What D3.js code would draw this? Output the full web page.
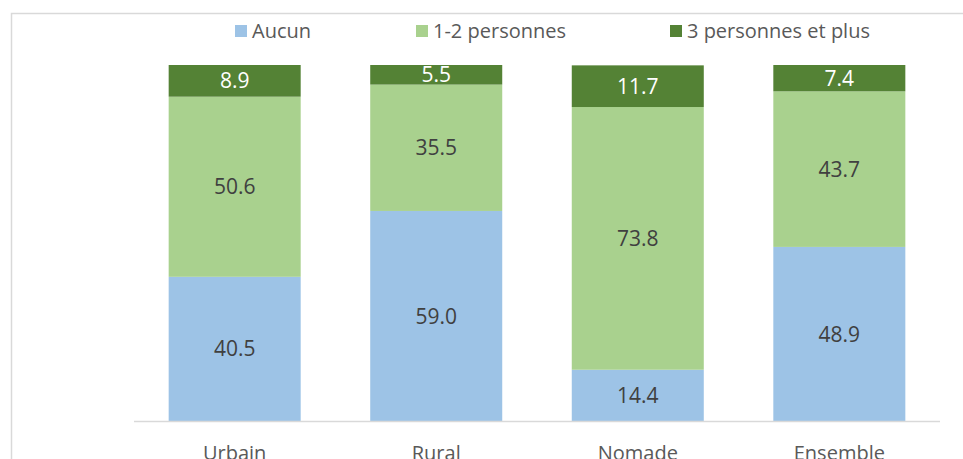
<!DOCTYPE html>
<html>
<head>
<meta charset="utf-8">
<script src="https://cdn.jsdelivr.net/npm/d3@7"></script>
<style>
    body { margin: 0; background: #fff; }
    svg { display: block; font-family: 'Open Sans', sans-serif; }
</style>
</head>
<body>
<svg id="chart" width="963" height="459"></svg>
<script>
var categories = ['Urbain', 'Rural', 'Nomade', 'Ensemble'];
var seriesNames = ['Aucun', '1-2 personnes', '3 personnes et plus'];
var aucun = [40.5, 59.0, 14.4, 48.9];
var unDeux = [50.6, 35.5, 73.8, 43.7];
var troisPlus = [8.9, 5.5, 11.7, 7.4];
var colors = ['#9dc3e6', '#a9d18e', '#548235'];
var labelColors = ['#404040', '#404040', '#ffffff'];

var svg = d3.select('#chart');

// chart frame (runs off the right and bottom edge)
svg.append('rect')
    .attr('x', 11.5)
    .attr('y', 13.5)
    .attr('width', 1000)
    .attr('height', 500)
    .attr('fill', 'none')
    .attr('stroke', '#d9d9d9')
    .attr('stroke-width', 1.5);

var x = d3.scaleBand()
    .domain(categories)
    .range([134, 940])
    .paddingInner(0.345)
    .paddingOuter(0.172);

var y = d3.scaleLinear()
    .domain([0, 100])
    .range([421, 65]);

var rows = categories.map(function (c, i) {
    return { cat: c, s0: aucun[i], s1: unDeux[i], s2: troisPlus[i] };
});
var stack = d3.stack().keys(['s0', 's1', 's2']);
var layers = stack(rows);

var g = svg.append('g');

layers.forEach(function (layer, li) {
    g.selectAll('.bar' + li)
        .data(layer)
        .enter()
        .append('rect')
        .attr('x', function (d) { return x(d.data.cat); })
        .attr('width', x.bandwidth())
        .attr('y', function (d) { return y(d[1]); })
        .attr('height', function (d) { return y(d[0]) - y(d[1]); })
        .attr('fill', colors[li]);
});

layers.forEach(function (layer, li) {
    g.selectAll('.lab' + li)
        .data(layer)
        .enter()
        .append('text')
        .attr('x', function (d) { return x(d.data.cat) + x.bandwidth() / 2; })
        .attr('y', function (d) { return (y(d[0]) + y(d[1])) / 2; })
        .attr('dy', '0.36em')
        .attr('text-anchor', 'middle')
        .attr('font-size', 21)
        .attr('fill', labelColors[li])
        .text(function (d) { return (d[1] - d[0]).toFixed(1); });
});

// baseline
svg.append('line')
    .attr('x1', 134)
    .attr('x2', 940)
    .attr('y1', 421.5)
    .attr('y2', 421.5)
    .attr('stroke', '#d9d9d9')
    .attr('stroke-width', 1.5);

// category labels
svg.selectAll('.cat')
    .data(categories)
    .enter()
    .append('text')
    .attr('x', function (d) { return x(d) + x.bandwidth() / 2; })
    .attr('y', 460)
    .attr('text-anchor', 'middle')
    .attr('font-size', 20)
    .attr('fill', '#595959')
    .text(function (d) { return d; });

// legend
var legendX = [235, 416, 670];
var legend = svg.selectAll('.leg')
    .data(seriesNames)
    .enter()
    .append('g')
    .attr('transform', function (d, i) { return 'translate(' + legendX[i] + ',25)'; });

legend.append('rect')
    .attr('width', 12)
    .attr('height', 12)
    .attr('fill', function (d, i) { return colors[i]; });

legend.append('text')
    .attr('x', 17)
    .attr('y', 6)
    .attr('dy', '0.36em')
    .attr('font-size', 20)
    .attr('fill', '#595959')
    .text(function (d) { return d; });
</script>
</body>
</html>
